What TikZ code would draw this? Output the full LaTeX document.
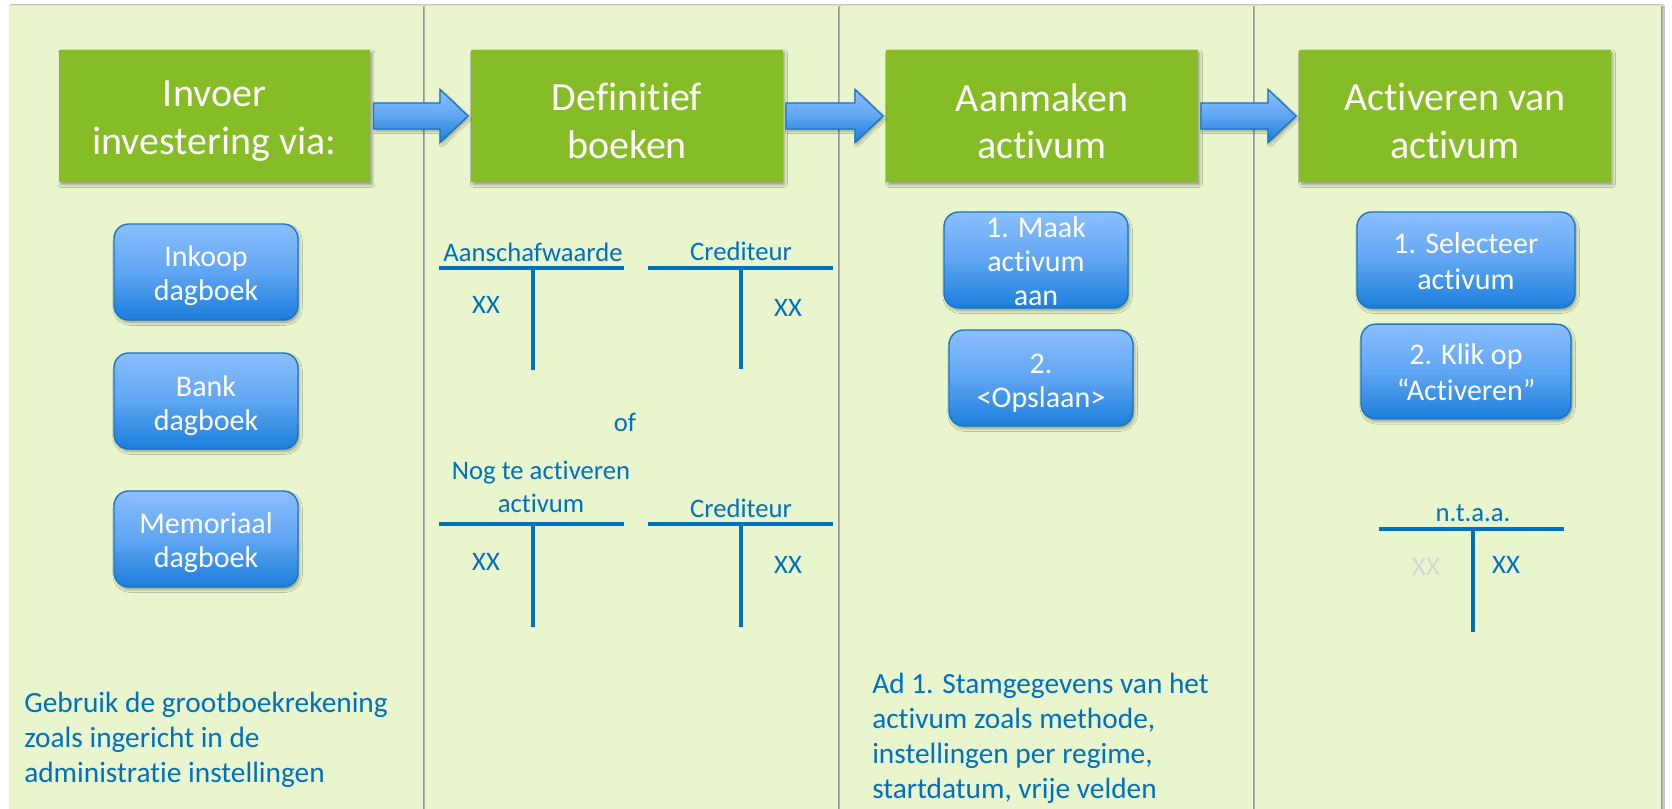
\documentclass[tikz,border=0pt]{standalone}
\usepackage{fontspec}
\setmainfont[Ligatures=NoCommon]{Carlito}
\usetikzlibrary{calc,shadows.blur}
\definecolor{panelbg}{HTML}{E8F5CD}
\definecolor{gboxc}{HTML}{86BC25}
\definecolor{tblue}{HTML}{0070C0}
\definecolor{boxtop}{HTML}{8CBFFF}
\definecolor{boxmid}{HTML}{5FA5F2}
\definecolor{boxbot}{HTML}{1A7EDB}
\definecolor{boxdraw}{HTML}{1774C6}
\definecolor{grayxx}{HTML}{D3D8D0}
\begin{document}
\begin{tikzpicture}[x=0.75pt,y=-0.75pt,
  panel/.style={fill=panelbg, blur shadow={shadow xshift=1.5pt, shadow yshift=0pt, shadow blur radius=1.2pt, shadow opacity=45}},
  gbox/.style={fill=gboxc, minimum width=233.5pt, minimum height=99pt, inner sep=0pt,
    blur shadow={shadow xshift=1.5pt, shadow yshift=-2pt, shadow blur radius=2pt, shadow opacity=35}},
  gtext/.style={text=white, inner sep=0pt, align=center, font=\fontsize{30pt}{35.5pt}\selectfont},
  bbox/.style={rounded corners=11pt, top color=boxtop, bottom color=boxbot, middle color=boxmid, draw=boxdraw, line width=1pt,
    inner sep=0pt, minimum width=138pt, minimum height=72pt,
    blur shadow={shadow xshift=1.2pt, shadow yshift=-2pt, shadow blur radius=2pt, shadow opacity=35}},
  btext/.style={text=white, align=center, inner sep=0pt, font=\fontsize{22.5pt}{25.5pt}\selectfont},
  barrow/.style={top color=boxtop, bottom color=boxbot, middle color=boxmid, draw=boxdraw, line width=1pt,
    blur shadow={shadow xshift=1.2pt, shadow yshift=-2pt, shadow blur radius=1.5pt, shadow opacity=30}},
  tline/.style={draw=tblue, line width=3.4pt},
  ttext/.style={text=tblue, inner sep=0pt, align=center, font=\fontsize{20pt}{24.4pt}\selectfont},
  note/.style={text=tblue, inner sep=0pt, align=left, font=\fontsize{22pt}{26.25pt}\selectfont}
]
\useasboundingbox (0,0) rectangle (1672,809);
\fill[white] (0,0) rectangle (1672,809);
% panels
\path[panel] (9,6) rectangle (423,815);
\path[panel] (425,6) rectangle (838,815);
\path[panel] (840,6) rectangle (1253,815);
\path[panel] (1255,6) rectangle (1661,815);
% green boxes
\node[gbox] (g1) at (214.5,116) {};
\node[gbox] (g2) at (627,116) {};
\node[gbox] (g3) at (1042,116) {};
\node[gbox] (g4) at (1455,116) {};
\node[gtext] (g1t) at ($(g1)+(0,5)$) {Invoer\\investering via:};
\node[gtext] (g2t) at ($(g2)+(0,5)$) {Definitief\\boeken};
\node[gtext] (g3t) at ($(g3)+(0,5)$) {Aanmaken\\activum};
\node[gtext] (g4t) at ($(g4)+(0,5)$) {Activeren van\\activum};
% block arrows
\foreach \a/\b in {g1/g2, g2/g3, g3/g4}{
  \path[barrow] ($(\a.east)+(3,-13)$) -- ($(\b.west)+(-31,-13)$) -- ($(\b.west)+(-31,-26.5)$)
     -- ($(\b.west)+(-3,0)$) -- ($(\b.west)+(-31,26.5)$) -- ($(\b.west)+(-31,13)$)
     -- ($(\a.east)+(3,13)$) -- cycle;
}
% panel 1 boxes
\node[bbox] (inkoop) at (206,272) {};
\node[btext] (inkoopt) at ($(inkoop)+(0,3.5)$) {Inkoop\\dagboek};
\node[bbox] (bank) at (206,401) {};
\node[btext] (bankt) at ($(bank)+(0,4.5)$) {Bank\\dagboek};
\node[bbox] (memo) at (206,539) {};
\node[btext] (memot) at ($(memo)+(0,4)$) {Memoriaal\\dagboek};
% panel 3 boxes
\node[bbox] (maak) at (1036,260) {};
\node[btext] (maakt) at ($(maak)+(0,1)$) {1. Maak\\activum\\aan};
\node[bbox] (opsl) at (1041,378) {};
\node[btext] (opslt) at ($(opsl)+(0,5)$) {2.\\<Opslaan>};
% panel 4 boxes
\node[bbox, minimum width=163.5pt] (sel) at (1466,260) {};
\node[btext, font=\fontsize{22.5pt}{27pt}\selectfont] (selt) at ($(sel)+(0,1)$) {1. Selecteer\\activum};
\node[bbox, minimum width=157.5pt, minimum height=71pt] (klik) at (1466,371.5) {};
\node[btext, font=\fontsize{22.5pt}{27pt}\selectfont] (klikt) at ($(klik)+(0,1)$) {2. Klik op\\“Activeren”};
% T accounts panel 2
\draw[tline] (439,268) -- (624,268);
\draw[tline] (533,268) -- (533,370);
\node[ttext] (t1l) at (533,252) {Aanschafwaarde};
\node[ttext] (t1x) at (486,305) {XX};
\draw[tline] (648,268) -- (833,268);
\draw[tline] (741,268) -- (741,369);
\node[ttext] (t2l) at (741,251) {Crediteur};
\node[ttext] (t2x) at (788,308) {XX};
\node[ttext] (of) at (625,422) {of};
\draw[tline] (439,524) -- (624,524);
\draw[tline] (533,524) -- (533,627);
\node[ttext] (t3l) at (541,487) {Nog te activeren\\activum};
\node[ttext] (t3x) at (486,562) {XX};
\draw[tline] (648,524) -- (833,524);
\draw[tline] (741,524) -- (741,627);
\node[ttext] (t4l) at (741,508) {Crediteur};
\node[ttext] (t4x) at (788,565) {XX};
% T account panel 4
\draw[tline] (1379,529) -- (1564,529);
\draw[tline] (1473,529) -- (1473,632);
\node[ttext] (t5l) at (1473,513) {n.t.a.a.};
\node[ttext, text=grayxx] (t5g) at (1426,567) {XX};
\node[ttext] (t5x) at (1506,565) {XX};
% notes
\node[note, anchor=west] (n1) at (24,740) {Gebruik de grootboekrekening\\zoals ingericht in de\\administratie instellingen};
\node[note, anchor=west] (n3) at (872,738.5) {Ad 1. Stamgegevens van het\\activum zoals methode,\\instellingen per regime,\\startdatum, vrije velden};
\end{tikzpicture}
\end{document}
